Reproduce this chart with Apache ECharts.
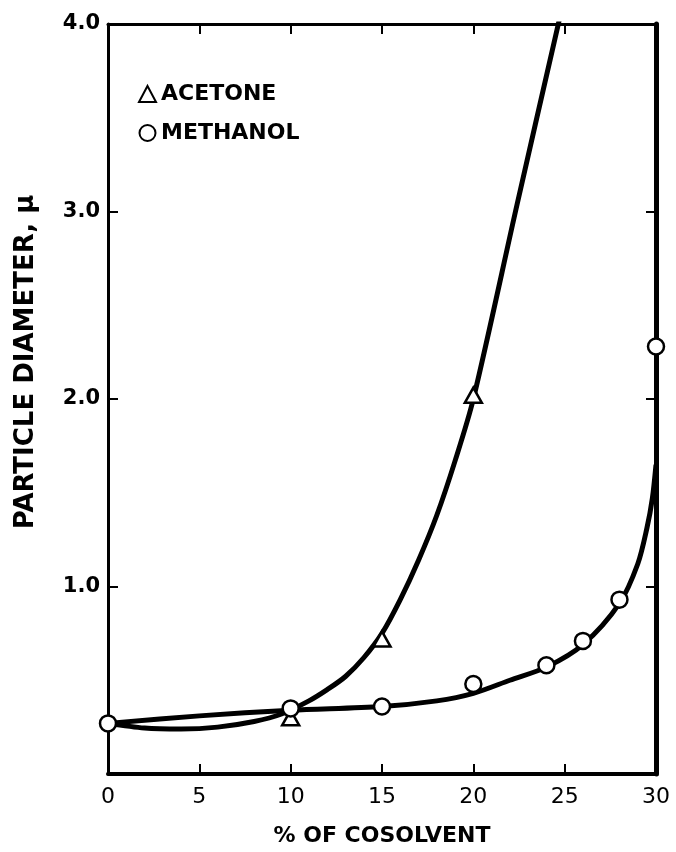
<!DOCTYPE html>
<html>
<head>
<meta charset="utf-8">
<script src="https://cdn.jsdelivr.net/npm/echarts@6/dist/echarts.min.js"></script>
<style>
html,body{margin:0;padding:0;background:#fff;}
#chart{width:676px;height:852px;}
</style>
</head>
<body>
<div id="chart"></div>
<script>
// Measured points
var acetoneX = [10, 15, 20, 24.7];
var acetoneY = [0.30, 0.72, 2.02, 4.02];
var methanolX = [0, 10, 15, 20, 24, 26, 28, 30];
var methanolY = [0.27, 0.35, 0.36, 0.48, 0.58, 0.71, 0.93, 2.28];
// Hand-drawn fitted curves
var acetoneCurveX = [0, 2, 4, 6, 8, 9.5, 11, 12, 13, 14, 15, 16, 17, 18, 19, 20, 22.4, 24.7];
var acetoneCurveY = [0.27, 0.245, 0.24, 0.25, 0.28, 0.32, 0.39, 0.45, 0.52, 0.62, 0.75, 0.93, 1.14, 1.38, 1.67, 2.0, 3.04, 4.02];
var methanolCurveX = [0, 5, 10, 15, 18, 20, 22, 24, 26, 28, 29, 29.5, 29.8, 30];
var methanolCurveY = [0.27, 0.31, 0.34, 0.36, 0.39, 0.43, 0.50, 0.57, 0.69, 0.91, 1.12, 1.31, 1.47, 1.65];
var xTicks = [0, 5, 10, 15, 20, 25, 30];
var yTicks = [0, 1, 2, 3, 4];
var xTitle = '% OF COSOLVENT';
var yTitle = 'PARTICLE DIAMETER, \u03bc';

function pairs(xs, ys){ return xs.map(function(x,i){ return [x, ys[i]]; }); }

var FONT = '"DejaVu Sans", "Liberation Sans", sans-serif';
var chart = echarts.init(document.getElementById('chart'));
function tick(){ return {show:true, inside:true, length:10, lineStyle:{color:'#000', width:2}}; }
chart.setOption({
  animation:false,
  backgroundColor:'#fff',
  grid:{left:108, right:20, top:24, bottom:73, containLabel:false},
  xAxis:[
    {
      type:'value', min:xTicks[0], max:xTicks[xTicks.length-1], interval:5, position:'bottom',
      splitLine:{show:false}, axisTick:tick(),
      axisLine:{show:true, onZero:false, lineStyle:{color:'#000', width:4}},
      axisLabel:{show:true, color:'#000', fontSize:22, fontFamily:FONT, margin:12},
      name:xTitle, nameLocation:'middle', nameGap:51,
      nameTextStyle:{color:'#000', fontSize:22, fontFamily:FONT, fontWeight:'bold'}
    },
    {
      type:'value', min:xTicks[0], max:xTicks[xTicks.length-1], interval:5, position:'top',
      splitLine:{show:false}, axisTick:tick(),
      axisLine:{show:true, onZero:false, lineStyle:{color:'#000', width:3}},
      axisLabel:{show:false}
    }
  ],
  yAxis:[
    {
      type:'value', min:yTicks[0], max:yTicks[yTicks.length-1], interval:1, position:'left',
      splitLine:{show:false}, axisTick:tick(),
      axisLine:{show:true, onZero:false, lineStyle:{color:'#000', width:3}},
      axisLabel:{show:true, color:'#000', fontSize:21, fontFamily:FONT, fontWeight:'bold', margin:8,
        formatter:function(v){ return v === 0 ? '' : v.toFixed(1); }}
    },
    {
      type:'value', min:yTicks[0], max:yTicks[yTicks.length-1], interval:1, position:'right',
      splitLine:{show:false}, axisTick:tick(),
      axisLine:{show:true, onZero:false, lineStyle:{color:'#000', width:5}},
      axisLabel:{show:false}
    }
  ],
  legend:{
    orient:'vertical', left:133, top:78, itemWidth:17, itemHeight:16, itemGap:17,
    data:['ACETONE','METHANOL'],
    textStyle:{color:'#000', fontSize:22, fontFamily:FONT, fontWeight:'bold'}
  },
  graphic:[{
    type:'text', x:26, y:362, rotation:Math.PI/2,
    style:{text:yTitle, fill:'#000', fontSize:26, fontFamily:FONT, fontWeight:'bold', textAlign:'center', textVerticalAlign:'middle'}
  }],
  series:[
    {type:'line', data:pairs(acetoneCurveX, acetoneCurveY), smooth:0.3, showSymbol:false,
     lineStyle:{color:'#000', width:5}, z:2, silent:true},
    {type:'line', data:pairs(methanolCurveX, methanolCurveY), smooth:0.3, showSymbol:false,
     lineStyle:{color:'#000', width:5}, z:2, silent:true},
    {name:'ACETONE', type:'scatter', data:pairs(acetoneX, acetoneY), symbol:'triangle', symbolSize:[17,15],
     itemStyle:{color:'#fff', borderColor:'#000', borderWidth:2.5, opacity:1}, z:5},
    {name:'METHANOL', type:'scatter', data:pairs(methanolX, methanolY), symbol:'circle', symbolSize:16,
     itemStyle:{color:'#fff', borderColor:'#000', borderWidth:2.5, opacity:1}, z:5}
  ]
});
</script>
</body>
</html>
